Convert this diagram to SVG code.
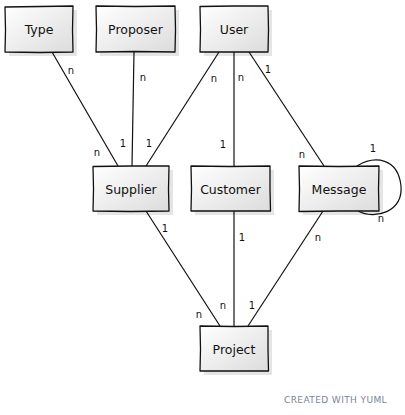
<svg xmlns="http://www.w3.org/2000/svg" width="405" height="415" viewBox="0 0 405 415">
<style>
.box{fill:url(#g);stroke:#111;stroke-width:1.3;stroke-linejoin:round}
.sh{fill:#000;opacity:0.1}
.t{font-family:"DejaVu Sans",sans-serif;font-size:12.5px;fill:#111;text-anchor:middle}
.l{font-family:"DejaVu Sans",sans-serif;font-size:10px;fill:#111;text-anchor:middle}
.e{stroke:#111;stroke-width:1.2;fill:none}
.c{font-family:"DejaVu Sans",sans-serif;font-size:9px;fill:#7a8595;letter-spacing:0.4px}
</style>
<defs>
<linearGradient id="g" x1="0" y1="0" x2="1" y2="1">
<stop offset="0" stop-color="#ffffff"/>
<stop offset="1" stop-color="#dcdcdc"/>
</linearGradient>
</defs>
<rect width="405" height="415" fill="#fff"/>
<g id="connectors">
<path class="e" d="M52,52 L118,166"/>
<path class="e" d="M134,52 L132,166"/>
<path class="e" d="M219,52 L146,166"/>
<path class="e" d="M234,52 L234,166"/>
<path class="e" d="M249,52 L324,166"/>
<path class="e" d="M146,211 L220,326"/>
<path class="e" d="M234,211 L234,326"/>
<path class="e" d="M323,211 L248,326"/>
<path class="e" d="M357,166 C375,155 398,158 401,186 C403,212 375,220 358,211"/>
<text class="l" x="71" y="74">n</text>
<text class="l" x="97" y="156">n</text>
<text class="l" x="143" y="81">n</text>
<text class="l" x="123" y="147">1</text>
<text class="l" x="214" y="82">n</text>
<text class="l" x="149" y="147">1</text>
<text class="l" x="241" y="81">n</text>
<text class="l" x="223" y="148">1</text>
<text class="l" x="268" y="73">1</text>
<text class="l" x="302" y="158">n</text>
<text class="l" x="373" y="152">1</text>
<text class="l" x="381" y="222">n</text>
<text class="l" x="165" y="232">1</text>
<text class="l" x="199" y="318">n</text>
<text class="l" x="242" y="241">1</text>
<text class="l" x="223" y="309">n</text>
<text class="l" x="318" y="241">n</text>
<text class="l" x="252" y="309">1</text>
</g>
<g id="Type">
<path class="sh" d="M9,10 L77,10 L77,56 L9,56 Z"/>
<path class="box" d="M5,7 L40,6.5 L73,6 L72.5,30 L73,52 L40,52.5 L5,52 L5.5,30 Z"/>
<text class="t" x="39" y="34">Type</text>
</g>
<g id="Proposer">
<path class="sh" d="M100,10 L179,10 L179,56 L100,56 Z"/>
<path class="box" d="M96,6 L135,6.5 L175,6 L175.5,30 L175,52 L135,51.5 L96,52 L96.5,30 Z"/>
<text class="t" x="135.5" y="34">Proposer</text>
</g>
<g id="User">
<path class="sh" d="M204,10 L272,10 L272,56 L204,56 Z"/>
<path class="box" d="M200,6.5 L234,6 L268,6 L268.5,30 L268,52 L234,52 L200,52 L200.5,30 Z"/>
<text class="t" x="234" y="34">User</text>
</g>
<g id="Supplier">
<path class="sh" d="M97,170 L173,170 L173,215 L97,215 Z"/>
<path class="box" d="M93,166.5 L131,166 L169,166 L168.5,189 L169,211 L131,211.5 L93,211 L93.5,189 Z"/>
<text class="t" x="131" y="194">Supplier</text>
</g>
<g id="Customer">
<path class="sh" d="M195,170 L274,170 L274,215 L195,215 Z"/>
<path class="box" d="M191,166 L230,166.5 L270,166 L270,189 L270.5,211 L230,211 L191,211 L191.5,189 Z"/>
<text class="t" x="230.5" y="194">Customer</text>
</g>
<g id="Message">
<path class="sh" d="M303,170 L383,170 L383,215 L303,215 Z"/>
<path class="box" d="M299,166 L339,166.5 L379,166 L378.5,189 L379,211 L339,211 L299,211.5 L299.5,189 Z"/>
<text class="t" x="339" y="194">Message</text>
</g>
<g id="Project">
<path class="sh" d="M204,330 L272,330 L272,375 L204,375 Z"/>
<path class="box" d="M200,326 L234,326.5 L268,326 L268,349 L268.5,371 L234,371 L200,371 L200.5,349 Z"/>
<text class="t" x="234" y="354">Project</text>
</g>
<text class="c" x="284" y="403">CREATED WITH YUML</text>
</svg>
